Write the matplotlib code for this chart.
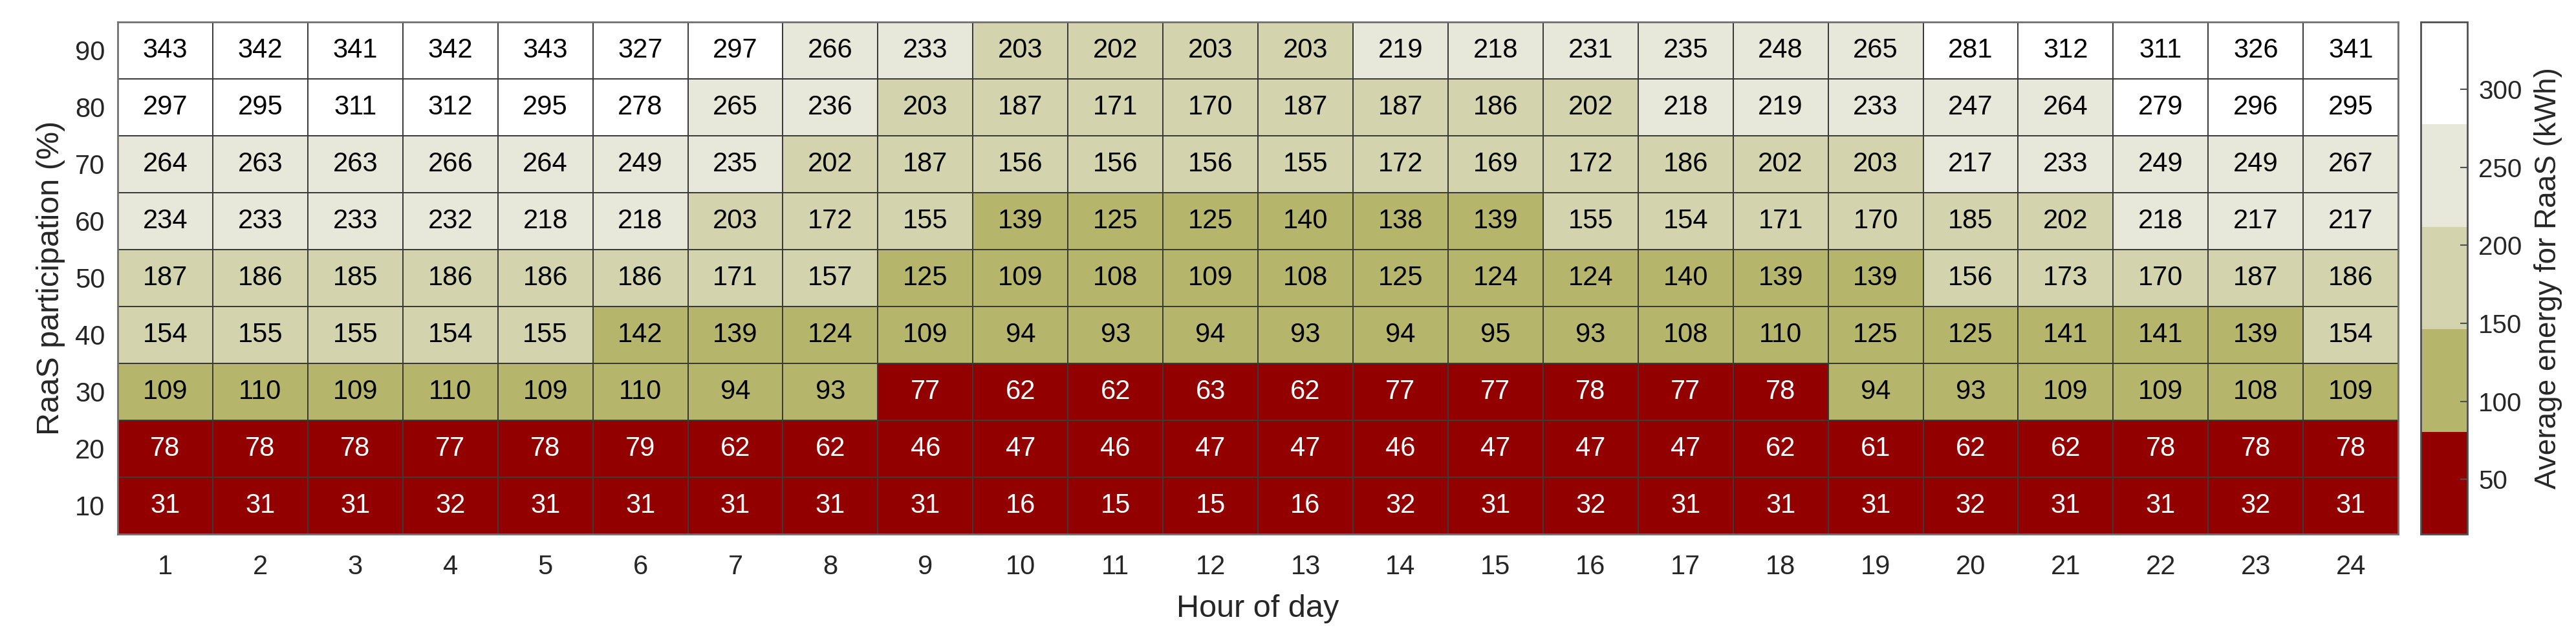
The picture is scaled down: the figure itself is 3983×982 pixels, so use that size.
import numpy as np
import matplotlib
matplotlib.use("Agg")
import matplotlib.pyplot as plt
from matplotlib.colors import ListedColormap, Normalize

plt.rcParams["font.family"] = ["Liberation Sans", "DejaVu Sans"]

hours = list(range(1, 25))
participation = [90, 80, 70, 60, 50, 40, 30, 20, 10]

# rows from top (90 %) to bottom (10 %)
row_90 = [343, 342, 341, 342, 343, 327, 297, 266, 233, 203, 202, 203, 203, 219, 218, 231, 235, 248, 265, 281, 312, 311, 326, 341]
row_80 = [297, 295, 311, 312, 295, 278, 265, 236, 203, 187, 171, 170, 187, 187, 186, 202, 218, 219, 233, 247, 264, 279, 296, 295]
row_70 = [264, 263, 263, 266, 264, 249, 235, 202, 187, 156, 156, 156, 155, 172, 169, 172, 186, 202, 203, 217, 233, 249, 249, 267]
row_60 = [234, 233, 233, 232, 218, 218, 203, 172, 155, 139, 125, 125, 140, 138, 139, 155, 154, 171, 170, 185, 202, 218, 217, 217]
row_50 = [187, 186, 185, 186, 186, 186, 171, 157, 125, 109, 108, 109, 108, 125, 124, 124, 140, 139, 139, 156, 173, 170, 187, 186]
row_40 = [154, 155, 155, 154, 155, 142, 139, 124, 109, 94, 93, 94, 93, 94, 95, 93, 108, 110, 125, 125, 141, 141, 139, 154]
row_30 = [109, 110, 109, 110, 109, 110, 94, 93, 77, 62, 62, 63, 62, 77, 77, 78, 77, 78, 94, 93, 109, 109, 108, 109]
row_20 = [78, 78, 78, 77, 78, 79, 62, 62, 46, 47, 46, 47, 47, 46, 47, 47, 47, 62, 61, 62, 62, 78, 78, 78]
row_10 = [31, 31, 31, 32, 31, 31, 31, 31, 31, 16, 15, 15, 16, 32, 31, 32, 31, 31, 31, 32, 31, 31, 32, 31]

cbar_ticks = [50, 100, 150, 200, 250, 300]

colors = ["#930000", "#b5b56c", "#d3d3ae", "#e8e8da", "#ffffff"]

data = np.array([row_90, row_80, row_70, row_60, row_50, row_40, row_30, row_20, row_10])

cmap = ListedColormap(colors)
norm = Normalize(vmin=data.min(), vmax=data.max())

fig = plt.figure(figsize=(39.83, 9.82), dpi=100)
ax = fig.add_axes([0.0457, 0.1589, 0.8853, 0.8065])
cax = fig.add_axes([0.9398, 0.1589, 0.0181, 0.8065])

mesh = ax.pcolormesh(data, cmap=cmap, norm=norm,
                     edgecolors="#3a3a3a", linewidth=1.4)
ax.set_xlim(0, len(hours))
ax.set_ylim(len(participation), 0)

for i in range(data.shape[0]):
    for j in range(data.shape[1]):
        v = data[i, j]
        c = "white" if norm(v) < 0.2 else "black"
        ax.text(j + 0.5, i + 0.5, str(v), ha="center", va="center",
                fontsize=30, color=c)

ax.set_xticks(np.arange(len(hours)) + 0.5)
ax.set_xticklabels([str(h) for h in hours])
ax.set_yticks(np.arange(len(participation)) + 0.5)
ax.set_yticklabels([str(p) for p in participation])
ax.tick_params(length=0, labelsize=30, colors="#262626")
ax.tick_params(axis="x", pad=22)
ax.tick_params(axis="y", pad=14)
for s in ax.spines.values():
    s.set_color("#707070")
    s.set_linewidth(2)

ax.set_xlabel("Hour of day", fontsize=35, color="#262626")
ax.set_ylabel("RaaS participation (%)", fontsize=35, color="#262626")
ax.xaxis.set_label_coords(0.5, -0.117)
ax.yaxis.set_label_coords(-0.023, 0.5)

cb = fig.colorbar(mesh, cax=cax, ticks=cbar_ticks)
cb.outline.set_edgecolor("#505050")
cb.outline.set_linewidth(2)
cax.tick_params(direction="in", length=8, width=1.5, color="#505050",
                labelsize=29, labelcolor="#262626", pad=12)
cb.set_label("Average energy for RaaS (kWh)", fontsize=33, color="#262626")
cax.yaxis.set_label_coords(2.42, 0.5)

fig.savefig("out.png", dpi=100)
